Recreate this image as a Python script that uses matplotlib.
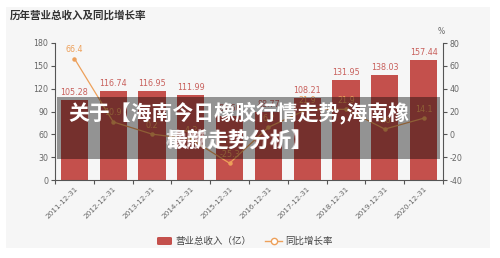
import matplotlib
matplotlib.use("Agg")
import matplotlib.pyplot as plt
from matplotlib.patches import Rectangle, FancyBboxPatch
from matplotlib.lines import Line2D
import numpy as np

plt.rcParams['font.family'] = ['DejaVu Sans', 'Noto Sans CJK SC']

years = ["2011-12-31", "2012-12-31", "2013-12-31", "2014-12-31", "2015-12-31",
         "2016-12-31", "2017-12-31", "2018-12-31", "2019-12-31", "2020-12-31"]
revenue = [105.28, 116.74, 116.95, 111.99, 83.6, 88.77, 108.21, 131.95, 138.03, 157.44]
growth = [66.4, 10.9, 0.2, -4.2, -25.3, 6.2, 21.9, 21.9, 4.6, 14.1]
left_ticks = [0, 30, 60, 90, 120, 150, 180]
right_ticks = [-40, -20, 0, 20, 40, 60, 80]
title = "历年营业总收入及同比增长率"
legend_bar = "营业总收入（亿）"
legend_line = "同比增长率"
banner1 = "关于【海南今日橡胶行情走势,海南橡"
banner2a = "最新走势分析】"
banner2b = "橡胶走势分析】"

W, H = 500, 258
fig = plt.figure(figsize=(W / 100, H / 100), dpi=100, facecolor="white")

def fx(px):
    return px / W

def fy(py):
    return 1 - py / H

# panel background
fig.patches.append(Rectangle((fx(6), fy(248)), fx(484), (241) / H,
                             transform=fig.transFigure, facecolor="#f6f6f6",
                             edgecolor="none", zorder=-10))

bar_color = "#c4504c"
line_color = "#eda05a"
axis_color = "#555555"
tick_color = "#666666"

ax = fig.add_axes([fx(55), fy(180), fx(443) - fx(55), (180 - 43) / H])
ax.set_facecolor("none")
x = np.arange(len(years))
ax.bar(x, revenue, width=0.7, color=bar_color, zorder=2)
for xi, v in zip(x, revenue):
    ax.text(xi, v + 4, f"{v:.2f}", ha="center", va="bottom", fontsize=5.8,
            color="#c8605c", zorder=3)
ax.set_xlim(-0.5, len(years) - 0.5)
ax.set_ylim(0, 180)
ax.set_yticks(left_ticks)
ax.set_yticklabels([str(t) for t in left_ticks], fontsize=5.7, color=tick_color)
ax.set_xticks(np.arange(-0.5, len(years), 1.0))
ax.set_xticklabels([])
ax.set_xticks(x, minor=True)
ax.set_xticklabels(years, minor=True, rotation=45, ha="right",
                   rotation_mode="anchor", fontsize=5.2, color=tick_color)
ax.tick_params(axis="x", which="minor", length=0, pad=4)
ax.tick_params(axis="x", which="major", length=3, color=axis_color)
ax.tick_params(axis="y", length=3, color=axis_color, pad=2)
for s in ["top", "right"]:
    ax.spines[s].set_visible(False)
ax.spines["left"].set_color(axis_color)
ax.spines["bottom"].set_color(axis_color)

ax2 = ax.twinx()
ax2.set_ylim(-40, 80)
ax2.plot(x, growth, color=line_color, lw=0.9, marker="o", ms=2.2,
         mfc=line_color, mec=line_color, zorder=4)
for xi, g in zip(x, growth):
    ax2.text(xi, g + 4, f"{g}", ha="center", va="bottom", fontsize=5.8,
             color=line_color, zorder=5)
ax2.set_yticks(right_ticks)
ax2.set_yticklabels([str(t) for t in right_ticks], fontsize=5.7, color=tick_color)
ax2.tick_params(axis="y", length=3, color=axis_color, pad=2)
for s in ["top", "left", "bottom"]:
    ax2.spines[s].set_visible(False)
ax2.spines["right"].set_color(axis_color)
fig.text(fx(441), fy(31), "%", fontsize=5.5, color=tick_color, ha="center", va="center")

# title
fig.text(fx(10), fy(15), title, fontsize=7.6, fontweight="bold", color="#333333",
         ha="left", va="center", family=["Noto Sans CJK SC"])

# legend
fig.patches.append(FancyBboxPatch((fx(157), fy(245)), fx(15), 8 / H,
                                  boxstyle="round,pad=0,rounding_size=0.004",
                                  transform=fig.transFigure, facecolor=bar_color,
                                  edgecolor="none"))
fig.text(fx(175), fy(241), legend_bar, fontsize=6.8, color="#444444", ha="left",
         va="center", family=["Noto Sans CJK SC"])
fig.lines.append(Line2D([fx(265), fx(282)], [fy(241), fy(241)], transform=fig.transFigure,
                        color=line_color, lw=1))
fig.lines.append(Line2D([fx(273.5)], [fy(241)], transform=fig.transFigure,
                        marker="o", ms=4.5, mfc="white", mec=line_color, mew=1))
fig.text(fx(285), fy(241), legend_line, fontsize=6.8, color="#444444", ha="left",
         va="center", family=["Noto Sans CJK SC"])

# banner overlay
fig.patches.append(Rectangle((fx(57), fy(159)), fx(440) - fx(57), (159 - 97) / H,
                             transform=fig.transFigure, facecolor="black",
                             alpha=0.4, edgecolor="none", zorder=10))
fig.text(fx(239), fy(113), banner1, fontsize=15, fontweight="heavy", color="white",
         ha="center", va="center", family=["Noto Sans CJK SC"], zorder=11)
fig.text(fx(239), fy(140), banner2a, fontsize=15, fontweight="heavy", color="white",
         ha="center", va="center", family=["Noto Sans CJK SC"], zorder=11)
fig.text(fx(239), fy(140), banner2b, fontsize=15, fontweight="heavy", color="white",
         ha="center", va="center", family=["Noto Sans CJK SC"], zorder=11, alpha=0.6)

fig.savefig("out.png", dpi=100, facecolor="white")
